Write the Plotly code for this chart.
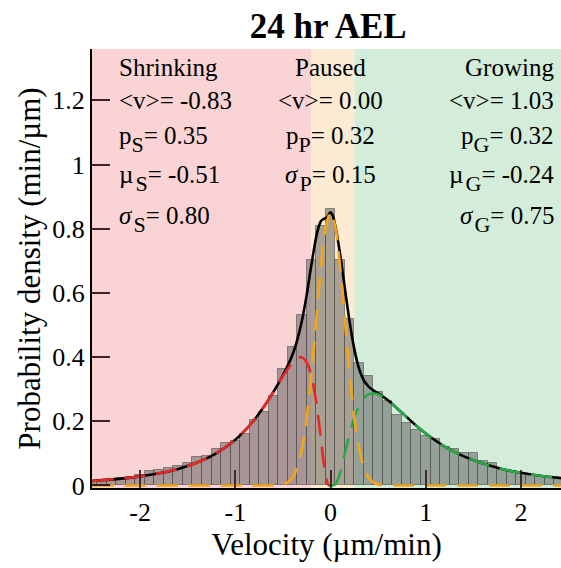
import plotly.graph_objects as go

# ---------------- data ----------------
bin_centers = [-2.5, -2.4, -2.3, -2.2, -2.1, -2.0, -1.9, -1.8, -1.7, -1.6, -1.5, -1.4, -1.3, -1.2,
               -1.1, -1.0, -0.9, -0.8, -0.7, -0.6, -0.5, -0.4, -0.3, -0.2, -0.1, 0.0,
               0.1, 0.2, 0.3, 0.4, 0.5, 0.6, 0.7, 0.8, 0.9, 1.0, 1.1, 1.2, 1.3, 1.4,
               1.5, 1.6, 1.7, 1.8, 1.9, 2.0, 2.1, 2.2, 2.3, 2.4]
bin_heights = [0.012, 0.016, 0.020, 0.022, 0.027, 0.032, 0.0435, 0.047, 0.054, 0.062, 0.069, 0.088, 0.093, 0.114,
               0.131, 0.139, 0.160, 0.204, 0.228, 0.279, 0.363, 0.430, 0.530, 0.704, 0.810, 0.860,
               0.704, 0.518, 0.380, 0.342, 0.292, 0.263, 0.218, 0.196, 0.173, 0.155, 0.144, 0.121, 0.112, 0.100,
               0.100, 0.077, 0.071, 0.049, 0.046, 0.038, 0.031, 0.028, 0.023, 0.021]

total_v = [-2.5, -2.2, -2.0, -1.8, -1.6, -1.4, -1.2, -1.0, -0.9, -0.8, -0.7, -0.6, -0.5, -0.4, -0.35,
           -0.3, -0.25, -0.2, -0.15, -0.12, -0.1, -0.08, -0.06, -0.04, -0.02, 0.0, 0.02, 0.05, 0.1,
           0.15, 0.2, 0.25, 0.3, 0.35, 0.4, 0.45, 0.5, 0.6, 0.7, 0.8, 0.9, 1.0, 1.2, 1.4, 1.6,
           1.8, 2.0, 2.2, 2.4, 2.5]
total_p = [0.0142, 0.0213, 0.0282, 0.0378, 0.0515, 0.0713, 0.100, 0.1424, 0.1706, 0.2046, 0.245, 0.2913,
           0.343, 0.407, 0.453, 0.514, 0.595, 0.689, 0.775, 0.810, 0.824, 0.829, 0.832, 0.835, 0.844,
           0.851, 0.843, 0.809, 0.721, 0.615, 0.511, 0.424, 0.363, 0.327, 0.308, 0.296, 0.287, 0.266,
           0.240, 0.213, 0.186, 0.162, 0.121, 0.0905, 0.068, 0.0514, 0.0393, 0.0302, 0.0235, 0.0208]

shrink_v = [-2.5, -2.2, -2.0, -1.8, -1.6, -1.4, -1.2, -1.0, -0.9, -0.8, -0.7, -0.6, -0.5, -0.4, -0.35,
            -0.3, -0.25, -0.2, -0.15, -0.12, -0.1, -0.08, -0.06, -0.05, -0.04, -0.03, -0.02, 0.0]
shrink_p = [0.0142, 0.0213, 0.0282, 0.0378, 0.0515, 0.0713, 0.100, 0.1424, 0.1706, 0.2046, 0.245, 0.291,
            0.340, 0.383, 0.397, 0.399, 0.383, 0.339, 0.259, 0.192, 0.142, 0.091, 0.046, 0.028, 0.014,
            0.005, 0.001, 0.0]

pause_v = [-2.5, -1.0, -0.7, -0.6, -0.5, -0.45, -0.4, -0.35, -0.3, -0.25, -0.2, -0.15, -0.1, -0.05, 0.0,
           0.05, 0.1, 0.15, 0.2, 0.25, 0.3, 0.35, 0.4, 0.45, 0.5, 0.6, 0.7, 1.0, 2.5]
pause_p = [0.0, 0.0, 0.0, 0.0003, 0.0033, 0.0095, 0.024, 0.056, 0.115, 0.212, 0.350, 0.516, 0.682, 0.805,
           0.851, 0.805, 0.682, 0.516, 0.350, 0.212, 0.115, 0.056, 0.024, 0.0095, 0.0033, 0.0003, 0.0,
           0.0, 0.0]

grow_v = [0.0, 0.05, 0.1, 0.15, 0.2, 0.25, 0.3, 0.35, 0.4, 0.45, 0.5, 0.6, 0.7, 0.8, 0.9, 1.0, 1.2,
          1.4, 1.6, 1.8, 2.0, 2.2, 2.4, 2.5]
grow_p = [0.0, 0.004, 0.0388, 0.0988, 0.1607, 0.2118, 0.2483, 0.2714, 0.2836, 0.2863, 0.2837, 0.2658,
          0.2402, 0.2127, 0.1861, 0.1617, 0.1211, 0.0905, 0.068, 0.0514, 0.0393, 0.0302, 0.0235, 0.0208]

regions = [(-2.6, -0.2, "rgb(250,212,212)"), (-0.2, 0.25, "rgb(252,234,211)"), (0.25, 2.6, "rgb(212,237,219)")]


def sub(s):
    return "<sub><span style='font-size:22px;baseline-shift:-3px'>" + s + "</span></sub>"


THIN = "&#8202;"
labels_left = ["Shrinking", "&lt;v&gt;= -0.83", "p" + sub("S") + "= 0.35", "µ" + THIN + sub("S") + "= -0.51",
               "<i>σ</i>" + THIN + sub("S") + "= 0.80"]
labels_mid = ["Paused", "&lt;v&gt;= 0.00", "p" + sub("P") + "= 0.32", "<i>σ</i>" + THIN + sub("P") + "= 0.15"]
labels_right = ["Growing", "&lt;v&gt;= 1.03", "p" + sub("G") + "= 0.32", "µ" + THIN + sub("G") + "= -0.24",
                "<i>σ</i>" + THIN + sub("G") + "= 0.75"]
row_y = [1.303, 1.198, 1.078, 0.955, 0.828]

FONT = "Liberation Serif, Times New Roman, serif"
dash = "21px,11px"

fig = go.Figure()
fig.add_trace(go.Bar(x=bin_centers, y=bin_heights, width=0.1,
                     marker=dict(color="rgba(85,85,85,0.5)", line=dict(color="rgba(70,70,70,0.55)", width=1)),
                     showlegend=False))
fig.add_trace(go.Scatter(x=total_v, y=total_p, mode="lines", line=dict(color="black", width=2.6, shape="spline"),
                         showlegend=False))
fig.add_trace(go.Scatter(x=shrink_v, y=shrink_p, mode="lines",
                         line=dict(color="rgb(230,40,40)", width=2.6, dash=dash, shape="spline"), showlegend=False))
fig.add_trace(go.Scatter(x=grow_v, y=grow_p, mode="lines",
                         line=dict(color="rgb(40,170,70)", width=2.6, dash=dash, shape="spline"), showlegend=False))
fig.add_trace(go.Scatter(x=pause_v, y=pause_p, mode="lines",
                         line=dict(color="rgb(245,165,20)", width=2.6, dash=dash, shape="spline"), showlegend=False))

for x0, x1, c in regions:
    fig.add_shape(type="rect", xref="x", yref="paper", x0=x0, x1=x1, y0=0, y1=1,
                  fillcolor=c, line=dict(width=0), layer="below")

for t, y in zip(labels_left, row_y):
    fig.add_annotation(x=-2.24, y=y, text=t, showarrow=False, xanchor="left", yanchor="middle",
                       font=dict(family=FONT, size=25, color="black"))
for t, y in zip(labels_mid, row_y[:4]):
    fig.add_annotation(x=0.0, y=y, text=t, showarrow=False, xanchor="center", yanchor="middle",
                       font=dict(family=FONT, size=25, color="black"))
for t, y in zip(labels_right, row_y):
    fig.add_annotation(x=2.37, y=y, text=t, showarrow=False, xanchor="right", yanchor="middle",
                       font=dict(family=FONT, size=25, color="black"))

fig.update_layout(
    width=561, height=568,
    margin=dict(l=92, r=0, t=49, b=80),
    paper_bgcolor="white", plot_bgcolor="white",
    bargap=0,
    title=dict(text="<b>24 hr AEL</b>", x=0.585, xanchor="center", y=0.955, yanchor="middle",
               font=dict(family=FONT, size=35, color="black")),
    font=dict(family=FONT, color="black"),
)
fig.update_xaxes(range=[-2.505, 2.42], tickvals=[-2, -1, 0, 1, 2], ticktext=["-2", "-1", "0", "1", "2"],
                 ticks="inside", ticklen=18, tickwidth=2, tickcolor="rgba(40,25,25,0.85)",
                 showline=True, linecolor="black", linewidth=2, showgrid=False, zeroline=False,
                 tickfont=dict(family=FONT, size=26, color="black"),
                 title=dict(text="Velocity (µm/min)", font=dict(family=FONT, size=31, color="black"), standoff=4))
fig.update_yaxes(range=[-0.008, 1.36], tickvals=[0, 0.2, 0.4, 0.6, 0.8, 1.0, 1.2],
                 ticktext=["0", "0.2", "0.4", "0.6", "0.8", "1", "1.2"],
                 ticks="inside", ticklen=18, tickwidth=2, tickcolor="rgba(40,15,15,0.9)",
                 showline=True, linecolor="black", linewidth=2, showgrid=False, zeroline=False,
                 tickfont=dict(family=FONT, size=26, color="black"),
                 title=dict(text="Probability density (min/µm)", font=dict(family=FONT, size=31, color="black"), standoff=2))

fig.write_html("out.html")
